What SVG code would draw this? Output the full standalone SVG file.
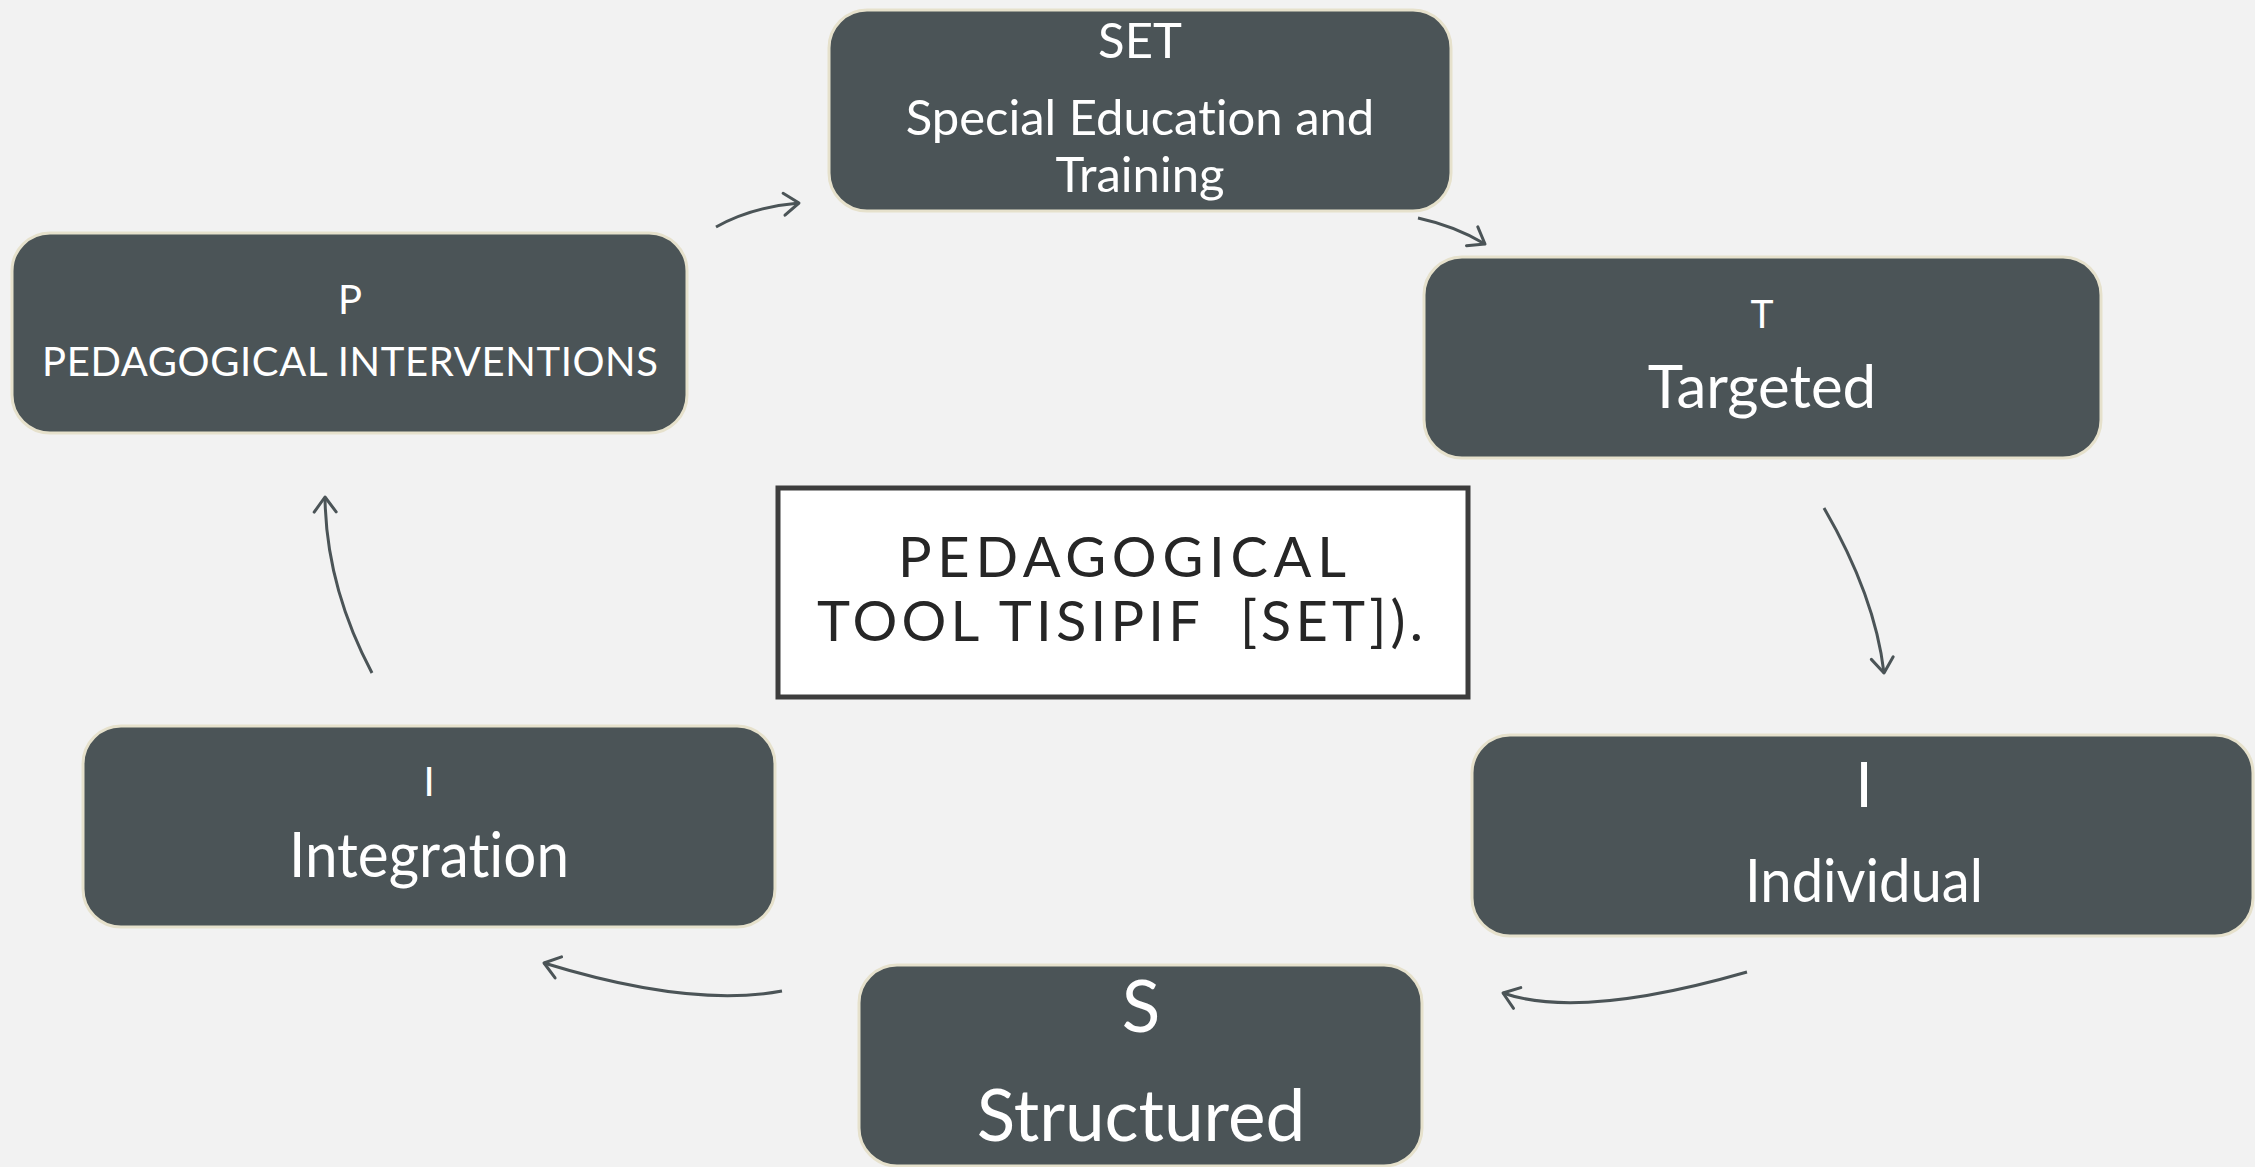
<svg xmlns="http://www.w3.org/2000/svg" width="2255" height="1167" viewBox="0 0 2255 1167">
  <defs>
    <style>
      .node rect { fill: #4b5457; stroke: #e6e1cc; stroke-width: 3; }
      .node text { fill: #ffffff; font-family: Lato, "Open Sans", "Liberation Sans", sans-serif; text-anchor: middle; font-variant-ligatures: none; }
      .title rect { fill: #ffffff; stroke: #3d3d3d; stroke-width: 5; }
      .title text { fill: #262626; font-family: Lato, "Open Sans", "Liberation Sans", sans-serif; text-anchor: middle; font-size: 56px; white-space: pre; }
      .conn path { fill: none; stroke: #4b5457; stroke-width: 3; marker-end: url(#chevron); }
    </style>
    <marker id="chevron" viewBox="-20 -14 24 28" refX="0" refY="0" markerWidth="24" markerHeight="28" markerUnits="userSpaceOnUse" orient="auto">
      <path d="M-15,-11 L0,0 L-15,11" fill="none" stroke="#4b5457" stroke-width="3" stroke-linecap="round" stroke-linejoin="round"/>
    </marker>
  </defs>

  <rect width="2255" height="1167" fill="#f2f2f2"/>

  <!-- cycle connectors -->
  <g id="connectors" class="conn">
    <path d="M716,227 Q752,207 799,203"/>
    <path d="M1418,218 Q1455,226 1485,244"/>
    <path d="M1824,508 Q1875,596 1884,673"/>
    <path d="M1747,972 Q1580,1020 1503,993"/>
    <path d="M782,991 Q690,1008 544,963"/>
    <path d="M372,673 Q326,586 325,497"/>
  </g>

  <!-- central title -->
  <g id="title" class="title">
    <rect x="778" y="488" width="690" height="209"/>
    <text x="1122" y="577" textLength="448" lengthAdjust="spacing">PEDAGOGICAL</text>
    <text x="1120" y="641" textLength="606" lengthAdjust="spacing" xml:space="preserve">TOOL TISIPIF  [SET]).</text>
  </g>

  <g id="node-set" class="node">
    <rect x="829" y="10" width="622" height="201" rx="38" ry="38"/>
    <text x="1140" y="58" font-size="49">SET</text>
    <text x="1140" y="135" font-size="49">Special Education and</text>
    <text x="1140" y="192" font-size="49">Training</text>
  </g>

  <g id="node-t" class="node">
    <rect x="1424" y="257" width="677" height="201" rx="38" ry="38"/>
    <text x="1762" y="328" font-size="39">T</text>
    <text x="1762" y="408" font-size="60">Targeted</text>
  </g>

  <g id="node-i-individual" class="node">
    <rect x="1472" y="735" width="781" height="201" rx="38" ry="38"/>
    <text x="1864" y="807" font-size="61">I</text>
    <text x="1864" y="902" font-size="60" textLength="238" lengthAdjust="spacingAndGlyphs">Individual</text>
  </g>

  <g id="node-s" class="node">
    <rect x="859" y="965" width="563" height="201" rx="38" ry="38"/>
    <text x="1141" y="1032" font-size="71">S</text>
    <text x="1141" y="1141" font-size="71">Structured</text>
  </g>

  <g id="node-i-integration" class="node">
    <rect x="83" y="726" width="692" height="201" rx="38" ry="38"/>
    <text x="429" y="796" font-size="40">I</text>
    <text x="429" y="877" font-size="61" textLength="280" lengthAdjust="spacingAndGlyphs">Integration</text>
  </g>

  <g id="node-p" class="node">
    <rect x="12" y="233" width="675" height="200" rx="38" ry="38"/>
    <text x="350" y="314" font-size="40">P</text>
    <text x="350" y="376" font-size="40" textLength="616" lengthAdjust="spacing">PEDAGOGICAL INTERVENTIONS</text>
  </g>
</svg>
